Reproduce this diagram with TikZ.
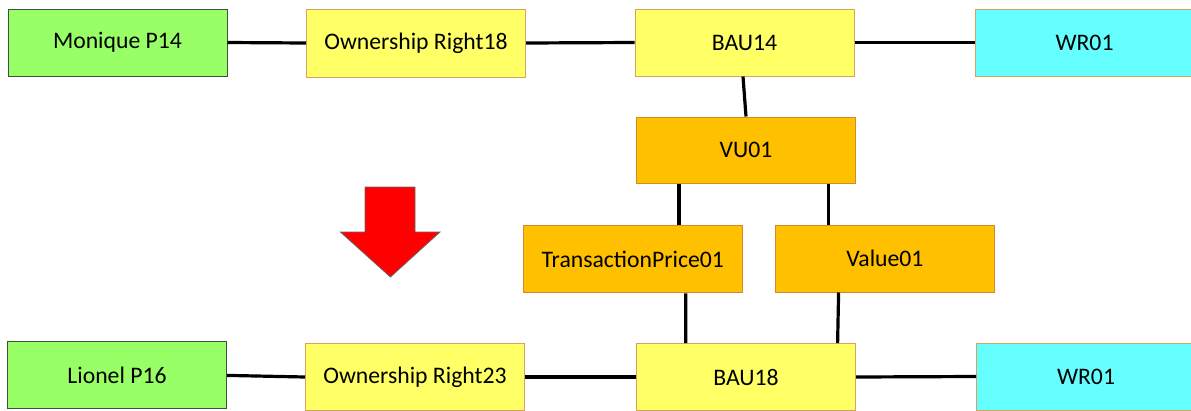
\documentclass[tikz,border=0pt]{standalone}
\usepackage{fontspec}
\setmainfont{Carlito}
\definecolor{gfill}{HTML}{99FF66}
\definecolor{yfill}{HTML}{FFFF66}
\definecolor{cfill}{HTML}{66FFFF}
\definecolor{ofill}{HTML}{FFC000}
\definecolor{gline}{HTML}{3F4F3F}
\definecolor{tline}{HTML}{D9A060}
\definecolor{oline}{HTML}{D08A2A}
\tikzset{
  box/.style={draw, line width=1pt, minimum width=219pt, minimum height=67pt, inner sep=0pt, anchor=center, font=\fontsize{23.7}{28}\selectfont},
  person/.style={box, fill=gfill, draw=gline},
  right/.style={box, fill=yfill, draw=tline},
  wr/.style={box, fill=cfill, draw=tline},
  val/.style={box, fill=ofill, draw=oline},
  link/.style={line width=3.2pt, black},
  bigarrow/.style={fill=red, draw=black!60, line width=0.8pt}
}
\begin{document}
\begin{tikzpicture}[x=1pt,y=-1pt]
\useasboundingbox (0,0) rectangle (1191,410);
% top row
\node[person] (mon) at (117.5,42.5) {Monique P14};
\node[right, minimum height=68pt] (or18) at (416,43) {Ownership Right18};
\node[right] (bau14) at (744.5,42.5) {BAU14};
\node[wr] (wr1) at (1084.5,42.5) {WR01};
% middle
\node[val, minimum height=66pt] (vu) at (746,150) {VU01};
\node[val] (tp) at (632.75,259.3) {TransactionPrice01};
\node[val] (v01) at (884.9,258.5) {Value01};
% bottom row
\node[person] (lio) at (117,375.4) {Lionel P16};
\node[right] (or23) at (415,377) {Ownership Right23};
\node[right] (bau18) at (746,377) {BAU18};
\node[wr] (wr2) at (1086,376.5) {WR01};
% connectors
\draw[link] (mon.east) -- (or18.west);
\draw[link] (or18.east) -- (bau14.west);
\draw[link] (bau14.east) -- (wr1.west);
\draw[link] ([xshift=-1.5pt]bau14.south) -- (vu.north);
\draw[link] ([xshift=-67pt]vu.south) -- ([xshift=46.25pt]tp.north);
\draw[link] ([xshift=82.7pt]vu.south) -- ([xshift=-56.2pt]v01.north);
\draw[link] ([xshift=53pt]tp.south) -- ([xshift=-60.3pt]bau18.north);
\draw[link] ([xshift=-46.3pt]v01.south) -- ([xshift=91.6pt]bau18.north);
\draw[link] (lio.east) -- (or23.west);
\draw[link] (or23.east) -- (bau18.west);
\draw[link] (bau18.east) -- (wr2.west);
% red arrow
\draw[bigarrow] (365,187) -- (415,187) -- (415,232) -- (440,232) -- (390.4,277) -- (340.4,232) -- (365,232) -- cycle;
\end{tikzpicture}
\end{document}
